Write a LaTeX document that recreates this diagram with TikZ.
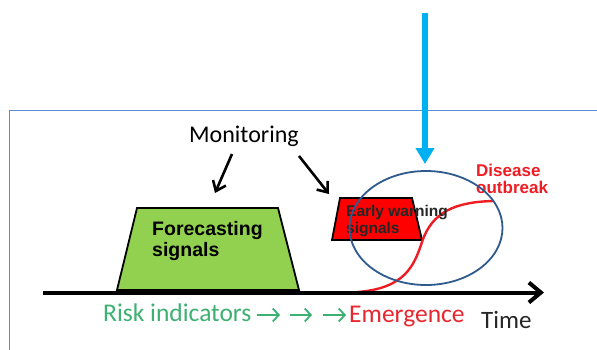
\documentclass[tikz,border=0pt]{standalone}
\usepackage{fontspec}
\setmainfont{Carlito}
\newfontfamily\arialf{Liberation Sans}
\usetikzlibrary{arrows.meta,shapes.geometric}
\definecolor{cyanarrow}{HTML}{00B0F0}
\definecolor{framecol}{HTML}{5B8BD0}
\definecolor{ellcol}{HTML}{2F5A8E}
\definecolor{greenfill}{HTML}{92D050}
\definecolor{riskgreen}{HTML}{3DB072}
\definecolor{emred}{HTML}{E8262E}
\definecolor{outred}{HTML}{F01C24}
\tikzset{
  lbl/.style={inner sep=0pt, anchor=base west},
  monarrow/.style={line width=2.6pt, -{Straight Barb[length=9pt,width=14pt,line width=2.6pt]}},
  boxsig/.style={draw=black, line width=1.8pt, line join=miter},
}
\begin{document}
\begin{tikzpicture}[x=1pt,y=-1pt]
\useasboundingbox[fill=white] (0,0) rectangle (597,349);
% frame
\draw[framecol, line width=1pt] (600,110.5) -- (9,110.5) -- (9,352);
% trapezoids
\draw[boxsig, fill=greenfill] (117,290) -- (137,208) -- (278,208) -- (299,290) -- cycle;
\draw[boxsig, fill=red] (332,240) -- (340,198) -- (412,198) -- (422,240) -- cycle;
% red curve
\draw[outred, line width=2.4pt] (358,292) .. controls (405,288) and (414,266) .. (422,242) .. controls (432,212) and (455,202) .. (493,201);
% axis
\coordinate (axstart) at (43,292.5);
\coordinate (axend) at (544,292.5);
\draw[line width=4pt, -{Straight Barb[length=12pt,width=20pt,line width=4pt]}] (axstart) -- (axend);
% texts
\node[lbl, font=\fontsize{24}{28}\selectfont] (mon) at (189,142) {Monitoring};
\node[lbl, font=\arialf\bfseries\fontsize{19.5}{21}\selectfont, align=left] (fore) at (152,256) {Forecasting\\signals};
\node[lbl, font=\arialf\bfseries\fontsize{15.5}{16.5}\selectfont, align=left, text=black!85] (early) at (346,233) {Early warning\\signals};
\node[lbl, font=\arialf\bfseries\fontsize{17}{17.5}\selectfont, align=left, text=outred] (dis) at (476,193.5) {Disease\\outbreak};
\node[lbl, font=\fontsize{25.5}{28}\selectfont, text=riskgreen] (risk) at (103,321) {Risk indicators};
\node[lbl, font=\fontsize{25.5}{28}\selectfont, text=emred] (emerg) at (349,322) {Emergence};
\node[lbl, font=\fontsize{25}{28}\selectfont, text=black!85] (time) at (481,328) {Time};
% green arrows
\foreach \a/\b [count=\i] in {257/280, 290/312, 323/346}{
  \coordinate (ga\i) at (\a,315);
  \coordinate (gb\i) at (\b,315);
  \draw[riskgreen, line width=1.8pt, -{Straight Barb[length=6pt,width=13pt,line width=1.8pt]}] (ga\i) -- (gb\i);
}
% monitoring arrows
\coordinate (m1s) at (232,154);
\coordinate (m1e) at (215,193);
\coordinate (m2s) at (299,156);
\coordinate (m2e) at (329,194);
\draw[monarrow] (m1s) -- (m1e);
\draw[monarrow] (m2s) -- (m2e);
% ellipse
\node[draw=ellcol, line width=1.8pt, ellipse, minimum width=153pt, minimum height=114pt, inner sep=0pt] (ell) at (426,228) {};
% cyan arrow
\coordinate (cs) at (425,13);
\coordinate (ce) at (425,164);
\draw[cyanarrow, line width=6.5pt, -{Triangle[length=16pt,width=18pt]}] (cs) -- (ce);
\end{tikzpicture}
\end{document}
